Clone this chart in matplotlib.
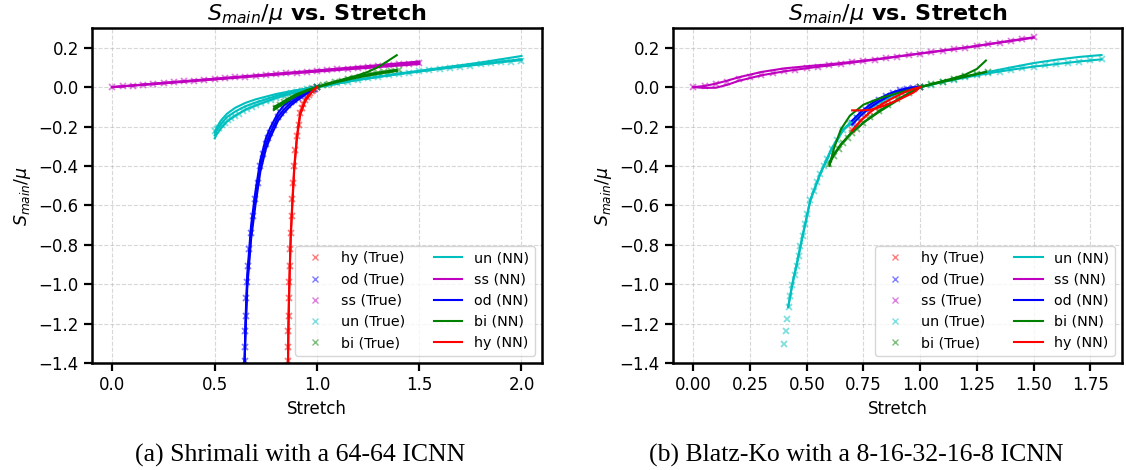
import numpy as np
import matplotlib.pyplot as plt

# ---------------- data: Shrimali (left panel) ----------------
shr_hy_x = [0.859, 0.8595, 0.860, 0.8615, 0.863, 0.865, 0.867, 0.8695, 0.872, 0.876, 0.880, 0.884, 0.889, 0.895,
            0.902, 0.910, 0.918, 0.925, 0.933, 0.943, 0.952, 0.960, 0.968, 0.975, 0.983, 0.991, 1.0]
shr_hy_y = [-1.39, -1.32, -1.24, -1.16, -1.07, -0.99, -0.91, -0.82, -0.74, -0.655, -0.57, -0.485, -0.40, -0.32,
            -0.25, -0.19, -0.13, -0.105, -0.085, -0.064, -0.05, -0.038, -0.029, -0.022, -0.014, -0.007, 0.0]
shr_hy_nn_x = [0.858, 0.860, 0.863, 0.867, 0.872, 0.880, 0.889, 0.902, 0.918, 0.943, 0.975, 1.0]
shr_hy_nn_a = [-1.45, -1.24, -1.07, -0.91, -0.74, -0.57, -0.40, -0.25, -0.13, -0.064, -0.022, 0.0]
shr_hy_nn_b = [-1.45, -1.25, -1.09, -0.93, -0.76, -0.59, -0.42, -0.26, -0.14, -0.07, -0.025, 0.0]

shr_od_x = [0.646, 0.647, 0.6485, 0.650, 0.652, 0.655, 0.659, 0.663, 0.670, 0.678, 0.688, 0.699, 0.710, 0.723,
            0.737, 0.750, 0.761, 0.772, 0.790, 0.810, 0.823, 0.837, 0.860, 0.875, 0.890, 0.905, 0.918, 0.932,
            0.945, 0.958, 0.970, 0.985, 1.0]
shr_od_y = [-1.45, -1.39, -1.32, -1.24, -1.16, -1.07, -0.99, -0.91, -0.82, -0.74, -0.655, -0.57, -0.485, -0.40,
            -0.34, -0.29, -0.26, -0.232, -0.19, -0.15, -0.132, -0.115, -0.09, -0.077, -0.065, -0.055, -0.047,
            -0.038, -0.03, -0.022, -0.015, -0.007, 0.0]
shr_od_nn_x = [0.645, 0.650, 0.659, 0.678, 0.699, 0.723, 0.750, 0.772, 0.810, 0.837, 0.875, 0.918, 0.958, 1.0]
shr_od_nn_a = [-1.45, -1.24, -0.99, -0.74, -0.57, -0.40, -0.29, -0.232, -0.15, -0.115, -0.077, -0.047, -0.022, 0.0]
shr_od_nn_b = [-1.45, -1.20, -0.95, -0.70, -0.53, -0.37, -0.26, -0.205, -0.13, -0.095, -0.062, -0.035, -0.015, 0.0]
shr_od_nn_c = [-1.45, -1.27, -1.02, -0.77, -0.60, -0.43, -0.315, -0.255, -0.17, -0.132, -0.09, -0.056, -0.027, 0.0]

shr_ss_x = [0.0, 0.05, 0.1, 0.15, 0.2, 0.25, 0.3, 0.35, 0.4, 0.45, 0.5, 0.55, 0.6, 0.65, 0.7, 0.75, 0.8, 0.85,
            0.9, 0.95, 1.0, 1.05, 1.1, 1.15, 1.2, 1.25, 1.3, 1.35, 1.4, 1.45, 1.5]
shr_ss_y = [0.0, 0.004, 0.008, 0.012, 0.016, 0.021, 0.025, 0.029, 0.033, 0.037, 0.041, 0.045, 0.049, 0.053,
            0.057, 0.062, 0.066, 0.070, 0.074, 0.078, 0.082, 0.086, 0.090, 0.094, 0.098, 0.103, 0.107, 0.111,
            0.115, 0.119, 0.123]
shr_ss_nn_x = [0.0, 0.25, 0.5, 0.75, 1.0, 1.25, 1.5]
shr_ss_nn_a = [0.0, 0.022, 0.043, 0.064, 0.085, 0.107, 0.13]
shr_ss_nn_b = [0.0, 0.019, 0.039, 0.059, 0.079, 0.098, 0.117]
shr_ss_nn_c = [0.0, 0.021, 0.041, 0.062, 0.082, 0.103, 0.124]

shr_un_x = [0.50, 0.51, 0.52, 0.535, 0.55, 0.565, 0.58, 0.60, 0.62, 0.64, 0.66, 0.68, 0.70, 0.725, 0.75, 0.775,
            0.80, 0.825, 0.85, 0.875, 0.90, 0.925, 0.95, 0.975, 1.00, 1.05, 1.10, 1.15, 1.20, 1.25, 1.30, 1.35,
            1.40, 1.45, 1.50, 1.55, 1.60, 1.65, 1.70, 1.75, 1.80, 1.85, 1.90, 1.95, 2.00]
shr_un_y = [-0.225, -0.215, -0.205, -0.192, -0.180, -0.169, -0.158, -0.146, -0.135, -0.123, -0.112, -0.102,
            -0.093, -0.082, -0.072, -0.063, -0.054, -0.046, -0.038, -0.031, -0.025, -0.018, -0.012, -0.006, 0.0,
            0.010, 0.019, 0.028, 0.037, 0.045, 0.052, 0.059, 0.066, 0.073, 0.080, 0.086, 0.092, 0.098, 0.103,
            0.109, 0.115, 0.120, 0.125, 0.130, 0.135]
shr_un_nn_x = [0.50, 0.51, 0.53, 0.56, 0.60, 0.65, 0.70, 0.80, 0.90, 1.00, 1.20, 1.40, 1.60, 1.80, 2.00]
shr_un_nn_a = [-0.26, -0.24, -0.21, -0.175, -0.145, -0.115, -0.093, -0.055, -0.025, 0.0, 0.037, 0.066, 0.092, 0.115, 0.137]
shr_un_nn_b = [-0.23, -0.205, -0.17, -0.135, -0.105, -0.08, -0.062, -0.035, -0.015, 0.0, 0.038, 0.069, 0.097, 0.125, 0.158]
shr_un_nn_c = [-0.245, -0.22, -0.188, -0.152, -0.124, -0.097, -0.078, -0.045, -0.02, 0.0, 0.037, 0.067, 0.094, 0.118, 0.142]

shr_bi_x = [0.80, 0.82, 0.84, 0.86, 0.88, 0.90, 0.92, 0.94, 0.96, 0.98, 1.00, 1.03, 1.06, 1.09, 1.12, 1.15, 1.18,
            1.21, 1.24, 1.27, 1.30, 1.33, 1.36, 1.40]
shr_bi_y = [-0.105, -0.090, -0.076, -0.063, -0.052, -0.041, -0.031, -0.022, -0.014, -0.007, 0.0, 0.009, 0.018,
            0.026, 0.033, 0.040, 0.047, 0.053, 0.059, 0.065, 0.070, 0.075, 0.080, 0.085]
shr_bi_nn_x = [0.79, 0.82, 0.86, 0.90, 0.95, 1.00, 1.05, 1.10, 1.15, 1.20, 1.25, 1.30, 1.35, 1.39]
shr_bi_nn_a = [-0.115, -0.095, -0.068, -0.044, -0.020, 0.0, 0.016, 0.030, 0.043, 0.055, 0.065, 0.074, 0.082, 0.088]
shr_bi_nn_b = [-0.11, -0.09, -0.064, -0.041, -0.018, 0.0, 0.016, 0.031, 0.046, 0.060, 0.078, 0.102, 0.135, 0.162]
shr_bi_nn_c = [-0.10, -0.083, -0.058, -0.036, -0.015, 0.0, 0.013, 0.026, 0.038, 0.049, 0.059, 0.068, 0.076, 0.082]

# ---------------- data: Blatz-Ko (right panel) ----------------
bk_hy_x = [0.70, 0.72, 0.74, 0.76, 0.78, 0.80, 0.83, 0.86, 0.89, 0.92, 0.95, 0.975, 1.0]
bk_hy_y = [-0.22, -0.19, -0.165, -0.145, -0.125, -0.107, -0.085, -0.065, -0.047, -0.03, -0.016, -0.007, 0.0]
bk_hy_nn_x = [0.70, 0.74, 0.78, 0.82, 0.85, 0.88, 0.91, 0.94, 0.97, 1.0]
bk_hy_nn_a = [-0.118, -0.118, -0.115, -0.103, -0.09, -0.076, -0.062, -0.045, -0.028, 0.0]
bk_hy_nn_b = [-0.22, -0.168, -0.126, -0.094, -0.074, -0.055, -0.038, -0.022, -0.009, 0.0]

bk_od_x = [0.70, 0.72, 0.74, 0.76, 0.78, 0.80, 0.82, 0.85, 0.88, 0.91, 0.94, 0.97, 1.0]
bk_od_y = [-0.18, -0.156, -0.134, -0.114, -0.096, -0.080, -0.066, -0.046, -0.030, -0.017, -0.008, -0.002, 0.0]
bk_od_nn_x = [0.70, 0.74, 0.78, 0.82, 0.86, 0.90, 0.94, 0.97, 1.0]
bk_od_nn_a = [-0.17, -0.125, -0.088, -0.058, -0.035, -0.018, -0.006, -0.001, 0.0]
bk_od_nn_b = [-0.19, -0.142, -0.103, -0.072, -0.047, -0.027, -0.012, -0.004, 0.0]

bk_ss_x = [0.0, 0.05, 0.1, 0.15, 0.2, 0.25, 0.3, 0.35, 0.4, 0.45, 0.5, 0.55, 0.6, 0.65, 0.7, 0.75, 0.8, 0.85,
           0.9, 0.95, 1.0, 1.05, 1.1, 1.15, 1.2, 1.25, 1.3, 1.35, 1.4, 1.45, 1.5]
bk_ss_y = [0.0, 0.008, 0.017, 0.028, 0.040, 0.051, 0.062, 0.072, 0.081, 0.089, 0.097, 0.104, 0.111, 0.118,
           0.125, 0.132, 0.139, 0.147, 0.155, 0.163, 0.170, 0.178, 0.185, 0.192, 0.200, 0.208, 0.217, 0.226,
           0.234, 0.243, 0.252]
bk_ss_nn_x = [0.0, 0.05, 0.1, 0.15, 0.2, 0.3, 0.4, 0.5, 0.6, 0.8, 1.0, 1.2, 1.5]
bk_ss_nn_a = [0.0, -0.004, -0.003, 0.012, 0.032, 0.060, 0.080, 0.096, 0.110, 0.139, 0.170, 0.200, 0.251]
bk_ss_nn_b = [0.0, 0.006, 0.018, 0.033, 0.050, 0.077, 0.095, 0.106, 0.116, 0.141, 0.171, 0.201, 0.253]

bk_un_x = [0.400, 0.407, 0.414, 0.420, 0.428, 0.436, 0.446, 0.455, 0.464, 0.472, 0.482, 0.493, 0.502, 0.516,
           0.530, 0.545, 0.560, 0.575, 0.590, 0.610, 0.633, 0.66, 0.69, 0.72, 0.75, 0.78, 0.81, 0.84, 0.87, 0.90,
           0.95, 1.00, 1.05, 1.10, 1.15, 1.20, 1.25, 1.30, 1.35, 1.40, 1.45, 1.50, 1.55, 1.60, 1.65, 1.70, 1.75, 1.80]
bk_un_y = [-1.305, -1.239, -1.175, -1.116, -1.058, -1.003, -0.956, -0.906, -0.855, -0.805, -0.755, -0.695,
           -0.645, -0.575, -0.525, -0.48, -0.44, -0.40, -0.365, -0.315, -0.266, -0.22, -0.185, -0.155, -0.128,
           -0.105, -0.085, -0.064, -0.047, -0.033, -0.015, 0.0, 0.013, 0.026, 0.038, 0.049, 0.060, 0.070, 0.079,
           0.088, 0.096, 0.104, 0.111, 0.117, 0.124, 0.130, 0.136, 0.141]
bk_un_nn_x = [0.418, 0.436, 0.455, 0.482, 0.516, 0.56, 0.61, 0.66, 0.72, 0.78, 0.87, 1.0, 1.1, 1.2, 1.3, 1.4,
              1.5, 1.6, 1.7, 1.8]
bk_un_nn_a = [-1.116, -1.003, -0.906, -0.755, -0.575, -0.44, -0.315, -0.22, -0.155, -0.105, -0.047, 0.0, 0.026,
              0.049, 0.070, 0.088, 0.104, 0.117, 0.130, 0.141]
bk_un_nn_b = [-1.116, -1.0, -0.9, -0.75, -0.57, -0.435, -0.31, -0.215, -0.15, -0.1, -0.044, 0.0, 0.027, 0.052,
              0.077, 0.100, 0.122, 0.139, 0.153, 0.163]

bk_bi_x = [0.60, 0.62, 0.64, 0.66, 0.68, 0.70, 0.72, 0.75, 0.78, 0.82, 0.86, 0.90, 0.95, 1.00, 1.05, 1.10, 1.15,
           1.20, 1.25, 1.30]
bk_bi_y = [-0.39, -0.35, -0.315, -0.285, -0.257, -0.232, -0.21, -0.18, -0.153, -0.12, -0.09, -0.06, -0.028, 0.0,
           0.015, 0.028, 0.041, 0.054, 0.066, 0.079]
bk_bi_nn_x = [0.60, 0.62, 0.65, 0.69, 0.75, 0.82, 0.91, 1.0, 1.05, 1.10, 1.15, 1.20, 1.25, 1.29]
bk_bi_nn_a = [-0.40, -0.31, -0.215, -0.145, -0.089, -0.057, -0.027, 0.0, 0.015, 0.029, 0.042, 0.055, 0.067, 0.077]
bk_bi_nn_b = [-0.39, -0.345, -0.295, -0.24, -0.18, -0.12, -0.056, 0.0, 0.016, 0.031, 0.046, 0.064, 0.092, 0.135]
bk_bi_nn_c = [-0.38, -0.34, -0.29, -0.24, -0.18, -0.125, -0.06, 0.0, 0.014, 0.027, 0.040, 0.053, 0.066, 0.077]

captions = ['(a) Shrimali with a 64-64 ICNN', '(b) Blatz-Ko with a 8-16-32-16-8 ICNN']

# ---------------- style ----------------
plt.rcParams['font.family'] = 'DejaVu Sans'
plt.rcParams['axes.linewidth'] = 1.8
plt.rcParams['xtick.major.width'] = 1.6
plt.rcParams['ytick.major.width'] = 1.6
plt.rcParams['xtick.major.size'] = 6
plt.rcParams['ytick.major.size'] = 6
plt.rcParams['xtick.labelsize'] = 12
plt.rcParams['ytick.labelsize'] = 12


def draw_panel(ax, true_sets, nn_sets):
    for name, color, x, y in true_sets:
        ax.plot(x, y, 'x', color=color, alpha=0.5, ms=5, mew=1.3, label=name + ' (True)')
    for name, color, x, runs in nn_sets:
        for i, y in enumerate(runs):
            ax.plot(x, y, '-', color=color, lw=1.5, label=name + ' (NN)' if i == 0 else '_nolegend_')
    ax.set_ylim(-1.4, 0.3)
    ax.grid(True, linestyle='--', alpha=0.5)
    ax.set_xlabel('Stretch', fontsize=12)
    ax.set_ylabel(r'$S_{main}/\mu$', fontsize=12.5)
    ax.set_title(r'$S_{main}/\mu$ vs. Stretch', fontsize=16, fontweight='bold')
    leg = ax.legend(loc='lower right', ncol=2, fontsize=10.3)
    for h in leg.legend_handles[:5]:
        h.set_markersize(4)
        h.set_markeredgewidth(1)


fig = plt.figure(figsize=(11.26, 4.7), dpi=100)
ax1 = fig.add_axes([0.0817, 0.2277, 0.3996, 0.7127])
ax2 = fig.add_axes([0.5977, 0.2277, 0.3987, 0.7127])

draw_panel(ax1,
           [('hy', 'r', shr_hy_x, shr_hy_y), ('od', 'b', shr_od_x, shr_od_y), ('ss', 'm', shr_ss_x, shr_ss_y),
            ('un', 'c', shr_un_x, shr_un_y), ('bi', 'g', shr_bi_x, shr_bi_y)],
           [('un', 'c', shr_un_nn_x, [shr_un_nn_a, shr_un_nn_b, shr_un_nn_c]),
            ('ss', 'm', shr_ss_nn_x, [shr_ss_nn_a, shr_ss_nn_b, shr_ss_nn_c]),
            ('od', 'b', shr_od_nn_x, [shr_od_nn_a, shr_od_nn_b, shr_od_nn_c]),
            ('bi', 'g', shr_bi_nn_x, [shr_bi_nn_a, shr_bi_nn_b, shr_bi_nn_c]),
            ('hy', 'r', shr_hy_nn_x, [shr_hy_nn_a, shr_hy_nn_b])])

draw_panel(ax2,
           [('hy', 'r', bk_hy_x, bk_hy_y), ('od', 'b', bk_od_x, bk_od_y), ('ss', 'm', bk_ss_x, bk_ss_y),
            ('un', 'c', bk_un_x, bk_un_y), ('bi', 'g', bk_bi_x, bk_bi_y)],
           [('un', 'c', bk_un_nn_x, [bk_un_nn_a, bk_un_nn_b]),
            ('ss', 'm', bk_ss_nn_x, [bk_ss_nn_a, bk_ss_nn_b]),
            ('od', 'b', bk_od_nn_x, [bk_od_nn_a, bk_od_nn_b]),
            ('bi', 'g', bk_bi_nn_x, [bk_bi_nn_a, bk_bi_nn_b, bk_bi_nn_c]),
            ('hy', 'r', bk_hy_nn_x, [bk_hy_nn_a, bk_hy_nn_b])])

fig.text(0.2664, 0.032, captions[0], ha='center', va='center', fontsize=18.5, family='Liberation Serif')
fig.text(0.7607, 0.032, captions[1], ha='center', va='center', fontsize=18.5, family='Liberation Serif')

fig.savefig('out.png', dpi=100)
